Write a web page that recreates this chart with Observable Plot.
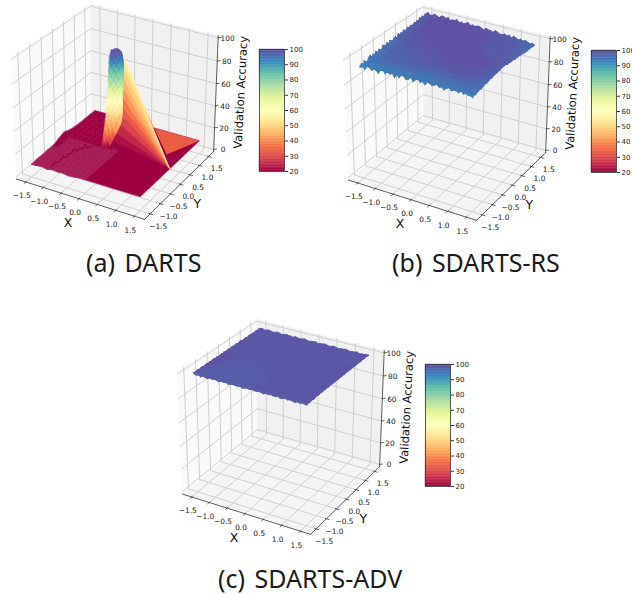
<!DOCTYPE html>
<html><head><meta charset="utf-8">
<script src="https://cdn.jsdelivr.net/npm/d3@7"></script>
<script src="https://cdn.jsdelivr.net/npm/@observablehq/plot@0.6"></script>
<style>
body{margin:0;background:#fff}
#fig{position:relative;width:632px;height:594px;overflow:hidden;font-family:"DejaVu Sans"}
#fig svg{position:absolute;background:transparent;opacity:.999}
.cap{position:absolute;font:25px/30px "Noto Sans";color:#1a1a1a;white-space:pre;word-spacing:3px}
</style></head><body><div id="fig"></div>
<script>
// ---------- axis values ----------
const xTicks=[-1.5,-1,-0.5,0,0.5,1,1.5];
const yTicks=[-1.5,-1,-0.5,0,0.5,1,1.5];
const zTicks=[0,20,40,60,80,100];
const barTicks=[20,30,40,50,60,70,80,90,100];
const captions=["(a) DARTS","(b) SDARTS-RS","(c) SDARTS-ADV"];
const spectralStops=[20,28,36,44,52,60,68,76,84,92,100];
const spectralColors=["#9e0142","#d53e4f","#f46d43","#fdae61","#fee08b","#ffffbf","#e6f598","#abdda4","#66c2a5","#3288bd","#5e4fa2"];

// ---------- DARTS: left half of the plane (x -1.5..0, y -1.5..1.5) ----------
const dartsPatchX=[-1.5,-1.35,-1.2,-1.05,-0.9,-0.75,-0.6,-0.45,-0.3,-0.15,0];
const dartsPatchY=[-1.5,-1.25,-1,-0.75,-0.5,-0.25,0,0.25,0.5,0.75,1,1.25,1.5];
const dartsPatchZ=[
[9,9.5,10,9,10,9.5,10,9,9.5,10,10],
[9.5,10,10,10,10,10,9.5,10,9.5,10,10],
[9.5,10,10,10,10,10,10,10,10,9.5,10],
[10,10,10,10,10,10,10,10,9.5,10,10],
[10,10,10,10,10,10,10,10,10,10,10],
[12,10,10,10,10,10,10,10,10,10,10],
[14,11,10.6,10.6,10.6,10.6,10.6,10.6,10.6,10.6,10],
[12,11,10.6,10.6,10.6,10.6,10.6,10.6,10.6,10.6,10],
[11,10.6,10.6,10.6,10.6,10.6,10.6,10.6,10.6,10.6,10],
[10.6,10.6,10.6,10.6,10.6,10.6,10.6,10.6,10.6,10.6,10],
[10.6,10.6,10.6,10.6,10.6,10.6,10.6,10.6,10.6,10.6,10],
[10.6,10.6,10.6,10.6,10.6,10.6,10.6,10.6,10.6,10.6,10],
[10.6,10.6,10.6,10.6,10.6,10.6,10.6,10.6,10.6,10.6,10]];
// the low jagged ridge across the left half
const ridgeX=[-.97,-.95,-.93,-.91,-.89,-.87,-.85,-.83,-.80,-.76,-.72,-.68,-.64,-.60,-.56,-.52,-.48,-.44,-.41,-.38,-.35,-.32,-.30];
const ridgeY=[-1.45,-1.3,-1.15,-1.0,-.9,-.8,-.7,-.62,-.54,-.46,-.40,-.34,-.30,-.26,-.22,-.17,-.13,-.1,-.05,0,.03,.06,.08];
const ridgeZ=[11,13,11,14,11,13,12,15,12,14,12,16,12,14,13,16,13,15,13,16,13,15,13];
// spike: rows bottom to top, columns across its width
const spikeLeft=[-.12,-.10,-.08,-.07,-.05,-.04,-.02,-.01,0,0,.01,.02,.02,.04,.05,.05,.06,.06,.07,.07,.08,.10,.12];
const spikeRight=[.07,.12,.16,.2,.25,.3,.34,.37,.38,.39,.39,.39,.39,.39,.41,.41,.41,.41,.41,.41,.41,.39,.36];
const spikeZ=[
[10,11,13,12,11,10,10],
[13,16,14,17,15,13,14],
[19,17,21,18,20,17,18],
[22,25,21,24,22,25,21],
[28,25,29,26,29,25,24],
[30,33,29,33,30,34,28],
[36,33,37,34,38,34,31],
[38,41,37,42,38,41,35],
[44,41,45,42,46,42,39],
[46,49,45,50,46,49,43],
[52,49,53,50,54,50,47],
[54,57,53,58,54,57,51],
[60,57,61,58,62,58,55],
[62,65,61,66,62,65,59],
[68,65,69,66,70,66,63],
[70,73,69,74,70,73,67],
[76,73,77,74,78,74,71],
[78,81,77,82,78,81,75],
[84,81,85,82,86,82,79],
[85,88,85,89,86,88,83],
[90,88,91,89,92,89,86],
[93,94,93,95,94,94,91],
[96,96,97,97,97,96,95]];
const spikeLift=[10,13,14,14,14,13,12,11,10,9,8,8,7,7,7,6,6,6,6,6,6,6,6];
const fanZ=[95,88,80,72,64,56,48,40,32,24,17,11];
const fanT=[.37,.41,.41,.41,.40,.39,.38,.36,.31,.22,.12,.08];
const fanValues=[56,53,49,45,41,37,33,29,25,22,20];

// ---------- SDARTS-RS inner grid (x, y -1.375..1.375) and its jagged rims ----------
const rsAxis=[-1.375,-1.25,-1.125,-1,-0.875,-0.75,-0.625,-0.5,-0.375,-0.25,-0.125,0,0.125,0.25,0.375,0.5,0.625,0.75,0.875,1,1.125,1.25,1.375];
const rsZ=[
[93,94,92,94,93,94,93,94,93,94,94,94,94,94,94,94,94,94,94,94,94,94,93],
[94,95,94,95,95,95,95,95,95,95,95,95,95,95,95,95,95,95,95,95,95,95,95],
[94,96,96,95,97,96,97,96,97,96,97,97,97,97,97,97,97,97,97,97,97,97,96],
[95,95,98,97,96,98,97,98,97,98,98,98,97,96,96,97,98,99,99,98,98,98,96],
[94,97,96,98,97,98,96,98,98,98,99,98,99,99,99,99,99,99,99,99,99,98,97],
[95,95,98,96,98,97,99,97,98,99,98,99,99,99,99,99,99,99,99,99,99,99,97],
[94,97,97,98,96,99,97,99,98,98,99,99,99,99,99,99,99,99,99,99,99,99,97],
[95,96,98,97,99,97,98,98,99,99,99,99,99,100,100,100,100,100,99,99,99,99,98],
[95,97,97,99,98,99,98,99,99,99,99,99,100,100,100,100,100,100,100,100,99,99,98],
[95,97,98,98,99,98,99,99,99,100,99,100,100,100,100,100,100,100,100,100,100,99,98],
[96,96,99,98,99,99,99,99,100,99,100,100,100,100,100,100,100,100,100,100,100,100,98],
[96,98,98,99,99,99,100,99,100,100,100,100,100,100,100,100,100,100,100,100,100,99,98],
[96,98,99,99,99,99,99,100,100,100,100,100,100,100,100,100,100,100,100,99,99,99,98],
[97,98,99,99,100,100,100,100,100,100,100,100,100,100,100,100,100,99,98,98,99,99,97],
[97,98,100,99,100,100,100,100,100,100,100,100,100,100,100,100,100,99,99,99,99,99,97],
[97,99,99,100,100,100,100,100,100,100,100,100,100,100,100,100,99,98,98,98,99,99,97],
[98,98,100,100,100,100,100,100,100,100,100,100,100,100,100,99,99,99,99,99,99,99,97],
[97,99,100,100,100,100,100,100,100,100,100,100,100,100,100,99,98,98,98,99,98,99,97],
[98,99,100,100,100,100,100,100,100,100,100,100,100,100,99,99,99,99,99,98,99,98,97],
[98,100,100,100,100,100,100,100,100,100,100,100,100,100,100,99,99,99,99,98,98,98,97],
[98,99,100,100,100,100,100,100,100,100,100,100,100,100,99,99,99,99,98,99,98,98,96],
[98,100,100,101,100,100,100,100,100,100,100,99,100,100,99,99,99,99,98,98,98,98,96],
[98,99,101,100,100,100,100,100,100,100,99,100,99,99,99,99,98,99,98,98,98,97,96]];
const rsFront=[94,95,92,96,95,93,96,94,92,95,96,93,95,94,96,92,95,93,96,95,93,94,96,93,95,96,94,95,93,96,95,94,95,96,94,95,93,95,96,94,95,95,94,96,94,95,94,94,93];
const rsLeft=[93,95,92,96,94,93,96,97,94,96,95,97,94,97,96,95,98,97,96,98,95,98,97,96,98,98,96,99,96,98,97,99,97,98,99,97,99,98,98,99,98,99,98,100,99,100,98,100,99];
const rsRight=[94,95,94,95,95,96,95,96,96,97,96,97,97,98,97,98,98,98,98,99,98,99,99,99,99,99,98,99,98,98,98,98,97,98,97,98,97,97,97,97,96,97,96,97,96,97,96,96,96];
const rsBack=[100,101,99,100,101,100,99,101,101,100,101,99,100,100,101,99,100,99,100,101,99,100,99,100,100,99,98,100,99,99,98,100,99,98,98,99,98,99,97,99,98,97,98,97,98,97,96,97,96];

// ---------- SDARTS-ADV inner grid and rims ----------
const advAxis=[-1.35,-1.2,-1.05,-0.9,-0.75,-0.6,-0.45,-0.3,-0.15,0,0.15,0.3,0.45,0.6,0.75,0.9,1.05,1.2,1.35];
const advZ=[
[98,97,99,98,97,99,98,97,99,98,99,99,99,99,99,99,99,99,99],
[99,98,97,99,98,97,99,98,98,99,99,99,99,99,99,99,99,99,99],
[99,97,99,98,99,98,97,99,98,98,99,99,99,99,99,99,99,99,99],
[100,99,98,97,99,98,99,97,99,98,99,99,99,99,99,99,99,99,99],
[100,98,99,99,97,99,98,99,98,98,99,99,99,99,99,99,99,99,99],
[100,99,97,99,99,98,99,97,99,99,99,99,99,99,99,99,99,99,99],
[100,99,99,98,99,97,99,99,98,99,99,99,99,99,99,99,99,99,99],
[100,100,98,99,98,99,99,98,99,99,99,99,99,99,99,99,99,99,99],
[100,99,99,99,99,98,99,99,99,99,99,99,99,99,99,99,99,99,99],
[99,99,99,98,99,99,99,98,99,99,99,99,99,99,99,99,99,99,99],
[99,99,99,99,99,99,99,99,99,99,99,99,99,99,99,99,99,99,99],
[99,99,99,99,99,99,99,99,99,99,99,99,99,99,99,99,99,99,99],
[99,99,99,99,99,99,99,99,99,99,99,99,99,99,99,99,99,99,99],
[99,99,99,99,99,99,99,99,99,99,99,99,99,99,99,99,99,99,99],
[99,99,99,99,99,99,99,99,99,99,99,99,99,99,99,99,99,99,99],
[99,99,99,99,99,99,99,99,99,99,99,99,99,99,99,99,99,99,99],
[99,99,99,99,99,99,99,99,99,99,99,99,99,99,99,99,99,99,99],
[99,99,99,99,99,99,99,99,99,99,99,99,99,99,99,99,99,99,99],
[99,99,99,99,99,99,99,99,99,99,99,99,99,99,99,99,99,99,99]];
const advFront=[99,98.5,99,98,99,98.5,98,99,98.5,99,98.5,98,99,98.5,99,98,98.5,99,98.5,98.5,99,98,98.5,99,98.5,99,98.5,98.5,99,98.5,98,99,98.5,99,98.5,98.5,99,98,98.5,99,98.5,99,98.5,98,99,98.5,99,98.5,98.5];
const advLeft=[100,99.5,100,100,99.5,100,100,99.5,100,100,99.5,100,99.5,100,100,99.5,100,99.5,99.5,100,99.5,100,99.5,99.5,100,99.5,99.5,100,99.5,99.5,100,99,99.5,100,99.5,99,99.5,99.5,99,99.5,99.5,99,99.5,99,99.5,99.5,99,99.5,99];
const advRight=[99,99.5,99,99.5,99.5,99,99.5,100,99.5,99.5,100,99.5,99.5,100,99.5,100,99.5,99.5,100,99.5,100,99.5,100,99.5,99.5,100,99.5,100,99.5,99.5,100,99.5,100,99.5,99.5,100,99.5,99.5,100,99.5,100,99.5,99.5,100,99.5,99.5,100,99.5,99.5];
const advBack=[99,99.5,98.5,99,99.5,99,98.5,99,99.5,99,98.5,99,99.5,99,99,98.5,99.5,99,98.5,99,99.5,99,98.5,99,99,99.5,98.5,99,99,99.5,99,98.5,99,99.5,99,98.5,99,99,99.5,99,98.5,99,99,99.5,98.5,99,99,99.5,99];

// ---------- the 3D camera ----------
const xMin=-1.77,xMax=1.77,yMin=-1.77,yMax=1.77,zMin=-2.08,zMax=102.08;
const elev=30*Math.PI/180,azim=-60*Math.PI/180,dist=10,zSquash=0.95,zShear=0.03;
const W=[Math.cos(elev)*Math.cos(azim),Math.cos(elev)*Math.sin(azim),Math.sin(elev)];
const U=[-Math.sin(azim),Math.cos(azim),0];
const V=[-Math.sin(elev)*Math.cos(azim),-Math.sin(elev)*Math.sin(azim),Math.cos(elev)];
function viewOf(x,y,z){
  const uy=(y-yMin)/(yMax-yMin)-.5;
  const d=[(x-xMin)/(xMax-xMin)-.5,uy,-.5+(z-zMin)/(zMax-zMin)*zSquash*(1+zShear*(.5-uy))];
  const dot=a=>a[0]*d[0]+a[1]*d[1]+a[2]*d[2];
  const f=dist/(dist-dot(W));
  return {px:dot(U)*f,py:dot(V)*f,depth:dot(W)};
}
const polyRows=(polys,start=0)=>polys.flatMap((p,i)=>p.pts.map(q=>{const s=viewOf(...q);return {px:s.px,py:s.py,id:i+start,v:p.v};}));
const mean=a=>a.reduce((s,b)=>s+b,0)/a.length;
const byDepth=polys=>polys.map(p=>({p,k:mean(p.pts.map(q=>viewOf(...q).depth))})).sort((a,b)=>a.k-b.k).map(d=>d.p);
function gridCells(xs,ys,zs){
  const out=[];
  for(let r=0;r<ys.length-1;r++)for(let c=0;c<xs.length-1;c++){
    const zz=[zs[r][c],zs[r][c+1],zs[r+1][c+1],zs[r+1][c]];
    out.push({pts:[[xs[c],ys[r],zz[0]],[xs[c+1],ys[r],zz[1]],[xs[c+1],ys[r+1],zz[2]],[xs[c],ys[r+1],zz[3]]],v:mean(zz)});
  }
  return out;
}
// thin strips that join the inner grid to a finely sampled jagged rim at +-1.5
function rimCells(axis,zs,rims){
  const n=axis.length,lo=axis[0],hi=axis[n-1];
  const near=a=>Math.max(0,Math.min(n-1,Math.round((a-lo)/(hi-lo)*(n-1))));
  const clampA=a=>Math.max(lo,Math.min(hi,a));
  const out=[];
  const strip=(rim,outerAt,innerAt,innerZ)=>{
    for(let i=0;i<rim.length-1;i++){
      const a=-1.5+3*i/(rim.length-1),b=-1.5+3*(i+1)/(rim.length-1);
      const za=innerZ(near(a)),zb=innerZ(near(b));
      out.push({pts:[outerAt(a,rim[i]),outerAt(b,rim[i+1]),innerAt(clampA(b),zb),innerAt(clampA(a),za)],v:mean([rim[i],rim[i+1],za,zb])});
    }
  };
  strip(rims.front,(a,z)=>[a,-1.5,z],(a,z)=>[a,lo,z],i=>zs[0][i]);
  strip(rims.back,(a,z)=>[a,1.5,z],(a,z)=>[a,hi,z],i=>zs[n-1][i]);
  strip(rims.left,(a,z)=>[-1.5,a,z],(a,z)=>[lo,a,z],i=>zs[i][0]);
  strip(rims.right,(a,z)=>[1.5,a,z],(a,z)=>[hi,a,z],i=>zs[i][n-1]);
  return out;
}
const colorOpt={type:"linear",domain:spectralStops,range:spectralColors,clamp:true};
const surfaceMark=(rows,o={})=>Plot.line(rows,{x:"px",y:"py",z:"id",fill:"v",stroke:"v",strokeWidth:.5,curve:"linear-closed",...o});
const fmt1=d3.format(".1f");

// ---------- chart furniture ----------
function frameMarks(){
  const pane=pts=>polyRows([{pts,v:0}]);
  const c=(x,y,z)=>[x,y,z];
  const seg=(list)=>list.flatMap((s,i)=>[s[0],s[1]].map(q=>{const v=viewOf(...q);return {px:v.px,py:v.py,id:i};}));
  const grid=seg([
    ...xTicks.flatMap(t=>[[c(t,yMin,zMin),c(t,yMax,zMin)],[c(t,yMax,zMin),c(t,yMax,zMax)]]),
    ...yTicks.flatMap(t=>[[c(xMin,t,zMin),c(xMax,t,zMin)],[c(xMin,t,zMin),c(xMin,t,zMax)]]),
    ...zTicks.flatMap(t=>[[c(xMin,yMin,t),c(xMin,yMax,t)],[c(xMin,yMax,t),c(xMax,yMax,t)]])
  ]);
  const axes=seg([
    [c(xMin,yMin,zMin),c(xMax,yMin,zMin)],[c(xMax,yMin,zMin),c(xMax,yMax,zMin)],[c(xMax,yMax,zMin),c(xMax,yMax,zMax)],
    ...xTicks.map(t=>[c(t,yMin+.03,zMin),c(t,yMin-.07,zMin)]),
    ...yTicks.map(t=>[c(xMax-.03,t,zMin),c(xMax+.07,t,zMin)]),
    ...zTicks.map(t=>[c(xMax,yMax,t),c(xMax+.05,yMax+.05,t)])
  ]);
  const at=(f,k)=>d=>viewOf(...f(d))[k];
  const txt={fontSize:7.4,fill:"#222"};
  const xp=d=>[d,yMin,zMin],yp=d=>[xMax,d,zMin],zp=d=>[xMax,yMax,d];
  const paneMark=(pts,fill)=>Plot.line(pane(pts),{x:"px",y:"py",z:"id",fill,stroke:"none",curve:"linear-closed"});
  return [
    paneMark([c(xMin,yMin,zMin),c(xMax,yMin,zMin),c(xMax,yMax,zMin),c(xMin,yMax,zMin)],"#f5f5f5"),
    paneMark([c(xMin,yMin,zMin),c(xMin,yMax,zMin),c(xMin,yMax,zMax),c(xMin,yMin,zMax)],"#fafafa"),
    paneMark([c(xMin,yMax,zMin),c(xMax,yMax,zMin),c(xMax,yMax,zMax),c(xMin,yMax,zMax)],"#f1f1f1"),
    Plot.line(grid,{x:"px",y:"py",z:"id",stroke:"#cfcfcf",strokeWidth:1}),
    Plot.line(axes,{x:"px",y:"py",z:"id",stroke:"#333",strokeWidth:.8}),
    Plot.text(xTicks,{x:at(xp,"px"),y:at(xp,"py"),text:fmt1,dx:-4,dy:14,...txt}),
    Plot.text(yTicks,{x:at(yp,"px"),y:at(yp,"py"),text:fmt1,dx:8,dy:12.5,...txt}),
    Plot.text(zTicks,{x:at(zp,"px"),y:at(zp,"py"),text:d=>String(d),dx:9.5,dy:.5,...txt}),
    Plot.text(["X"],{x:at(()=>[0,yMin,zMin],"px"),y:at(()=>[0,yMin,zMin],"py"),dx:-11,dy:24.5,text:d=>d,fontSize:12.5,fill:"#111"}),
    Plot.text(["Y"],{x:at(()=>[xMax,0,zMin],"px"),y:at(()=>[xMax,0,zMin],"py"),dx:17,dy:19.5,text:d=>d,fontSize:12.5,fill:"#111"}),
    Plot.text(["Validation Accuracy"],{x:at(()=>[xMax,yMax,50],"px"),y:at(()=>[xMax,yMax,50],"py"),dx:25,dy:-2.5,text:d=>d,fontSize:11.5,rotate:-87,fill:"#111"})
  ];
}
const SW=256,SH=242,cx=116,cy=104.2,sx=148,sy=143;
function addPanel(left,top,surface,capLeft,capBase,caption){
  const fig=document.getElementById("fig");
  const plot=Plot.plot({
    width:SW,height:SH,margin:0,
    style:{fontFamily:"DejaVu Sans",background:"transparent"},
    x:{type:"linear",domain:[(0-cx)/sx,(SW-cx)/sx],range:[0,SW],axis:null},
    y:{type:"linear",domain:[cy/sy,(cy-SH)/sy],range:[0,SH],axis:null},
    color:colorOpt,
    marks:[...frameMarks(),...surface]
  });
  plot.style.left=left+"px";plot.style.top=top+"px";fig.append(plot);
  const barLevels=d3.range(20,100,1);
  const bar=Plot.plot({
    width:60,height:134,marginTop:6,marginBottom:6,marginLeft:1,marginRight:34,
    style:{fontFamily:"DejaVu Sans",background:"transparent"},
    x:{domain:[0,1],axis:null},
    y:{domain:[20,100],axis:null},
    color:colorOpt,
    marks:[
      Plot.rect(barLevels,{x1:()=>0,x2:()=>1,y1:d=>d,y2:d=>d+1,fill:d=>d+.5,stroke:d=>d+.5,strokeWidth:.4}),
      Plot.frame({stroke:"#333",strokeWidth:.8}),
      Plot.axisY({anchor:"right",ticks:barTicks,tickSize:3,tickPadding:2,fontSize:7,label:null,fill:"#222",stroke:"#333"})
    ]
  });
  bar.style.left=(left+258)+"px";bar.style.top=(top+43)+"px";fig.append(bar);
  const cap=document.createElement("div");cap.className="cap";cap.textContent=caption;
  cap.style.left=capLeft+"px";cap.style.top=(capBase-24)+"px";fig.append(cap);
}

// ---------- surfaces ----------
// DARTS
const spikeX0=-0.3,spikeY0=0.03;
const sp=(t,z)=>[spikeX0+.866*t,spikeY0+.5*t,z];
const edgeP=[1.5,-0.05,10];
const patch=byDepth(gridCells(dartsPatchX,dartsPatchY,dartsPatchZ));
const tinted=patch.filter(p=>p.v<10.5),solid=patch.filter(p=>p.v>=10.5);
const rightPlane=[{pts:[[0,-1.5,10],[1.5,-1.5,10],[1.5,1.5,10],[0,1.5,10]],v:10}];
const coral=[{pts:[sp(.25,97),[0,1.5,10],[1.5,1.5,10],[1.12,.5,10]],v:mean([103,10,10,10])}];
const fan=d3.range(fanZ.length-1).reverse().map(i=>({pts:[sp(fanT[i],fanZ[i]),sp(fanT[i+1],fanZ[i+1]),edgeP],v:fanValues[i]}));
const spikeCols=spikeZ[0].length,spikePolys=[];
const tAt=(r,c)=>spikeLeft[r]+(spikeRight[r]-spikeLeft[r])*c/(spikeCols-1);
for(let r=0;r<spikeZ.length-1;r++)for(let c=0;c<spikeCols-1;c++){
  const zz=[spikeZ[r][c],spikeZ[r][c+1],spikeZ[r+1][c+1],spikeZ[r+1][c]];
  spikePolys.push({pts:[sp(tAt(r,c),zz[0]),sp(tAt(r,c+1),zz[1]),sp(tAt(r+1,c+1),zz[2]),sp(tAt(r+1,c),zz[3])],v:mean(zz)+spikeLift[r]});
}
const ridgeRows=ridgeX.map((x,i)=>{const s=viewOf(x,ridgeY[i],ridgeZ[i]);return {px:s.px,py:s.py};});
addPanel(0,0,[
  surfaceMark(polyRows(rightPlane)),
  surfaceMark(polyRows(tinted),{fill:"#a71c56",stroke:"#a71c56",strokeWidth:.8}),
  surfaceMark(polyRows(solid)),
  Plot.line(ridgeRows,{x:"px",y:"py",stroke:"#96013f",strokeWidth:1.2}),
  surfaceMark(polyRows(coral),{stroke:null}),
  surfaceMark(polyRows(fan),{strokeWidth:.3}),
  surfaceMark(polyRows(spikePolys))
],86,271,captions[0]);
// SDARTS-RS
const meshOf=(axis,zs,rims)=>byDepth([...gridCells(axis,axis,zs),...rimCells(axis,zs,rims)]);
addPanel(332,1,[surfaceMark(polyRows(meshOf(rsAxis,rsZ,{front:rsFront,back:rsBack,left:rsLeft,right:rsRight})),{strokeWidth:.8})],392,271,captions[1]);
// SDARTS-ADV
addPanel(166,315,[surfaceMark(polyRows(meshOf(advAxis,advZ,{front:advFront,back:advBack,left:advLeft,right:advRight})),{strokeWidth:.8})],218,587,captions[2]);
</script></body></html>
